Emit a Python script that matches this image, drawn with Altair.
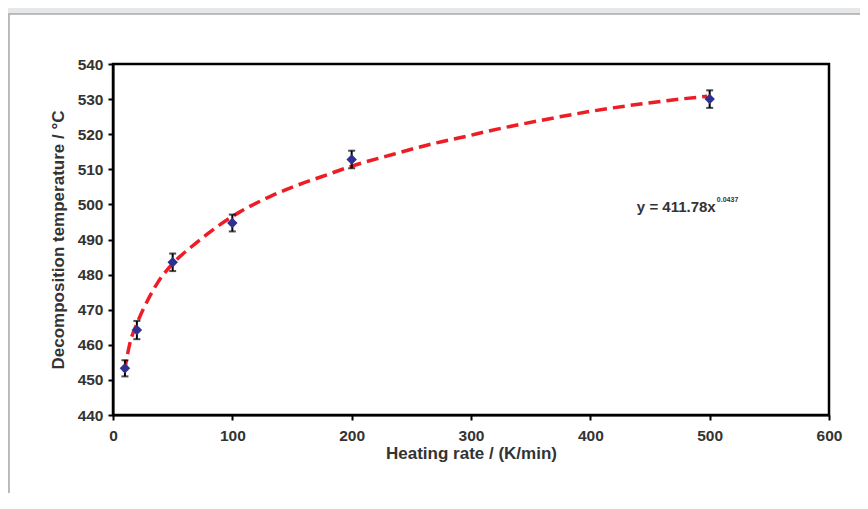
import altair as alt
import pandas as pd

# measured points
rate = [10, 20, 50, 100, 200, 500]
temp = [453.3, 464.2, 483.5, 494.7, 512.8, 530.0]
err = [2.3, 2.6, 2.5, 2.4, 2.5, 2.5]

# dashed trendline
fit_x = [9.5, 14, 21, 30, 38, 52, 66, 80, 90, 106, 132, 154, 174, 201, 235, 268,
         296, 316, 358, 400, 442, 475, 498]
fit_y = [452.3, 460.2, 466.8, 473.3, 478.0, 483.8, 488.0, 491.8, 494.3, 497.8, 502.3,
         505.4, 507.8, 511.0, 514.3, 517.3, 519.4, 521.0, 523.9, 526.5, 528.6, 530.0, 530.8]

x_ticks = [0, 100, 200, 300, 400, 500, 600]
y_ticks = [440, 450, 460, 470, 480, 490, 500, 510, 520, 530, 540]

eq_text = ["y = 411.78x"]
eq_exp = ["0.0437"]
eq_pos = [439, 499.3]

FONT = "Liberation Sans, Arial, sans-serif"

pts = pd.DataFrame({"x": rate, "y": temp,
                    "lo": [t - e for t, e in zip(temp, err)],
                    "hi": [t + e for t, e in zip(temp, err)]})
fit = pd.DataFrame({"x": fit_x, "y": fit_y})
ann = pd.DataFrame({"x": [eq_pos[0]], "y": [eq_pos[1]], "t": eq_text, "e": eq_exp})

xs = alt.Scale(domain=[0, 600], nice=False, zero=False)
ys = alt.Scale(domain=[440, 540], nice=False, zero=False)

common = dict(grid=False, domainColor="black", domainWidth=2, tickColor="black",
              tickWidth=2, tickSize=5, labelFont=FONT, labelFontSize=15.5,
              labelFontWeight="bold", labelColor="#333333", titleFont=FONT,
              titleFontSize=17, titleFontWeight="bold", titleColor="#333333",
              labelFlush=False, labelOverlap=False, zindex=1)
xax = alt.Axis(values=x_ticks, title="Heating rate / (K/min)",
               labelPadding=8, titlePadding=2, **common)
yax = alt.Axis(values=y_ticks, title="Decomposition temperature / °C",
               labelPadding=5, titlePadding=10, **common)

X = lambda f: alt.X(f, scale=xs, axis=xax)
Y = lambda f: alt.Y(f, scale=ys, axis=yax)

one = pd.DataFrame({"a": [0]})
panel = alt.Chart(one).mark_rect(
    fill="white", stroke="#a7a9ac", strokeWidth=1.5
).encode(x=alt.value(-104), x2=alt.value(900), y=alt.value(-50), y2=alt.value(600))

frame = alt.Chart(one).mark_rect(fill=None, fillOpacity=0, stroke="black", strokeWidth=2.5).encode(
    x=alt.value(0), x2=alt.value(716), y=alt.value(0), y2=alt.value(351))

base = alt.Chart(pts)

line = alt.Chart(fit).mark_line(color="#ee1c25", strokeWidth=3.5, strokeDash=[12, 6],
                                interpolate="monotone").encode(x=X("x:Q"), y=Y("y:Q"))

bars = base.mark_rule(color="black", strokeWidth=2).encode(
    x=X("x:Q"), y=Y("lo:Q"), y2="hi:Q")
cap_lo = base.mark_tick(color="black", thickness=2, size=7, orient="horizontal").encode(
    x=X("x:Q"), y=Y("lo:Q"))
cap_hi = base.mark_tick(color="black", thickness=2, size=7, orient="horizontal").encode(
    x=X("x:Q"), y=Y("hi:Q"))
dots = base.mark_point(shape="diamond", filled=True, color="#2e3192", size=110, opacity=1).encode(
    x=X("x:Q"), y=Y("y:Q"))

eq = alt.Chart(ann).mark_text(align="left", baseline="middle", font=FONT, fontSize=15,
                               fontWeight="bold", color="#333333").encode(
    x=X("x:Q"), y=Y("y:Q"), text="t:N")
eqs = alt.Chart(ann).mark_text(align="left", baseline="middle", font=FONT, fontSize=7,
                                fontWeight="bold", color="#333333", dx=80, dy=-7).encode(
    x=X("x:Q"), y=Y("y:Q"), text="e:N")

chart = alt.layer(panel, frame, line, bars, cap_lo, cap_hi, dots, eq, eqs).properties(
    width=716, height=351, background="#e6e7e9",
    padding={"left": 105, "top": 56, "right": 31, "bottom": 78},
    autosize=alt.AutoSizeParams(type="none"),
).configure_view(stroke=None)

chart.save("out.html", embed_options={"renderer": "svg", "actions": False})
